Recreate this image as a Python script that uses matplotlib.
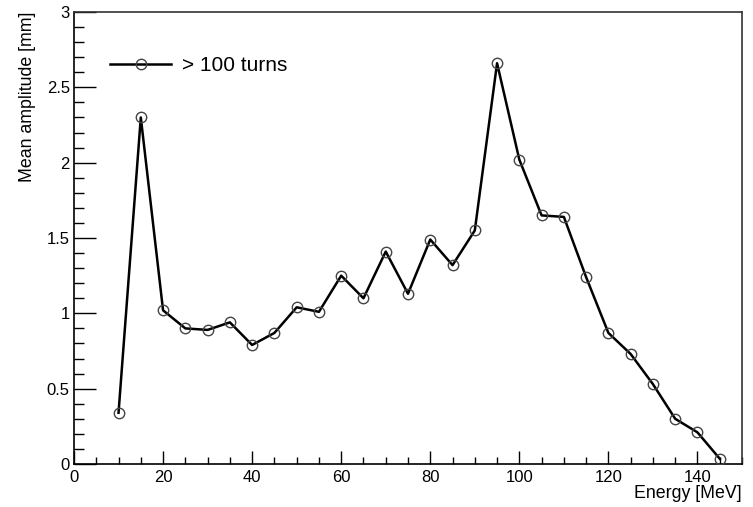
import matplotlib
matplotlib.use("Agg")
import matplotlib.pyplot as plt
from matplotlib.ticker import MultipleLocator
from matplotlib.lines import Line2D

plt.rcParams['font.family'] = ['Liberation Sans', 'DejaVu Sans']

energy = [10, 15, 20, 25, 30, 35, 40, 45, 50, 55, 60, 65, 70, 75, 80, 85, 90,
          95, 100, 105, 110, 115, 120, 125, 130, 135, 140, 145]
amplitude = [0.34, 2.30, 1.02, 0.90, 0.89, 0.94, 0.79, 0.87, 1.04, 1.01, 1.25, 1.10,
             1.41, 1.13, 1.49, 1.32, 1.55, 2.66, 2.02, 1.65, 1.64, 1.24, 0.87, 0.73,
             0.53, 0.30, 0.21, 0.035]
legend_label = "> 100 turns"

W, H = 753, 507
fig = plt.figure(figsize=(W / 100, H / 100), dpi=100)
l, r, b, t = 74, 742, 464, 12
ax = fig.add_axes([l / W, 1 - b / H, (r - l) / W, (b - t) / H])

ax.plot(energy, amplitude, color='black', lw=1.8, marker='o', ms=7.5,
        mfc='none', mec='#444444', mew=1.0, zorder=3)

ax.set_xlim(0, 150)
ax.set_ylim(0, 3)
ax.xaxis.set_major_locator(MultipleLocator(20))
ax.xaxis.set_minor_locator(MultipleLocator(5))
ax.yaxis.set_major_locator(MultipleLocator(0.5))
ax.yaxis.set_minor_locator(MultipleLocator(0.1))
ax.set_yticks([0, 0.5, 1, 1.5, 2, 2.5, 3])
ax.set_yticklabels(['0', '0.5', '1', '1.5', '2', '2.5', '3'])

ax.tick_params(axis='x', which='major', direction='in', length=9.5, width=1, labelsize=12, pad=4, top=False)
ax.tick_params(axis='x', which='minor', direction='in', length=4.8, width=1, top=False)
ax.tick_params(axis='y', which='major', direction='in', length=15.6, width=1, labelsize=12, pad=3, right=False)
ax.tick_params(axis='y', which='minor', direction='in', length=7.5, width=1, right=False)

for s in ['left', 'bottom']:
    ax.spines[s].set_linewidth(1.2)
    ax.spines[s].set_color('black')
for s in ['top', 'right']:
    ax.spines[s].set_linewidth(1.2)
    ax.spines[s].set_color('#333333')

fig.text(r / W, 1 - 493 / H, "Energy [MeV]", ha='right', va='center', fontsize=12.8)
fig.text(27 / W, 1 - 12 / H, "Mean amplitude [mm]", ha='center', va='top', rotation=90, fontsize=12.8)

handle = Line2D([], [], color='black', lw=1.8, marker='o', ms=7.5, mfc='none', mec='#444444', mew=1.0)
ax.legend([handle], [legend_label], loc='upper left', bbox_to_anchor=(28 / (r - l), 1 - 36 / (b - t)),
          frameon=False, fontsize=15, handlelength=2.9, handletextpad=0.55, borderaxespad=0)

fig.savefig("out.png", dpi=100)
